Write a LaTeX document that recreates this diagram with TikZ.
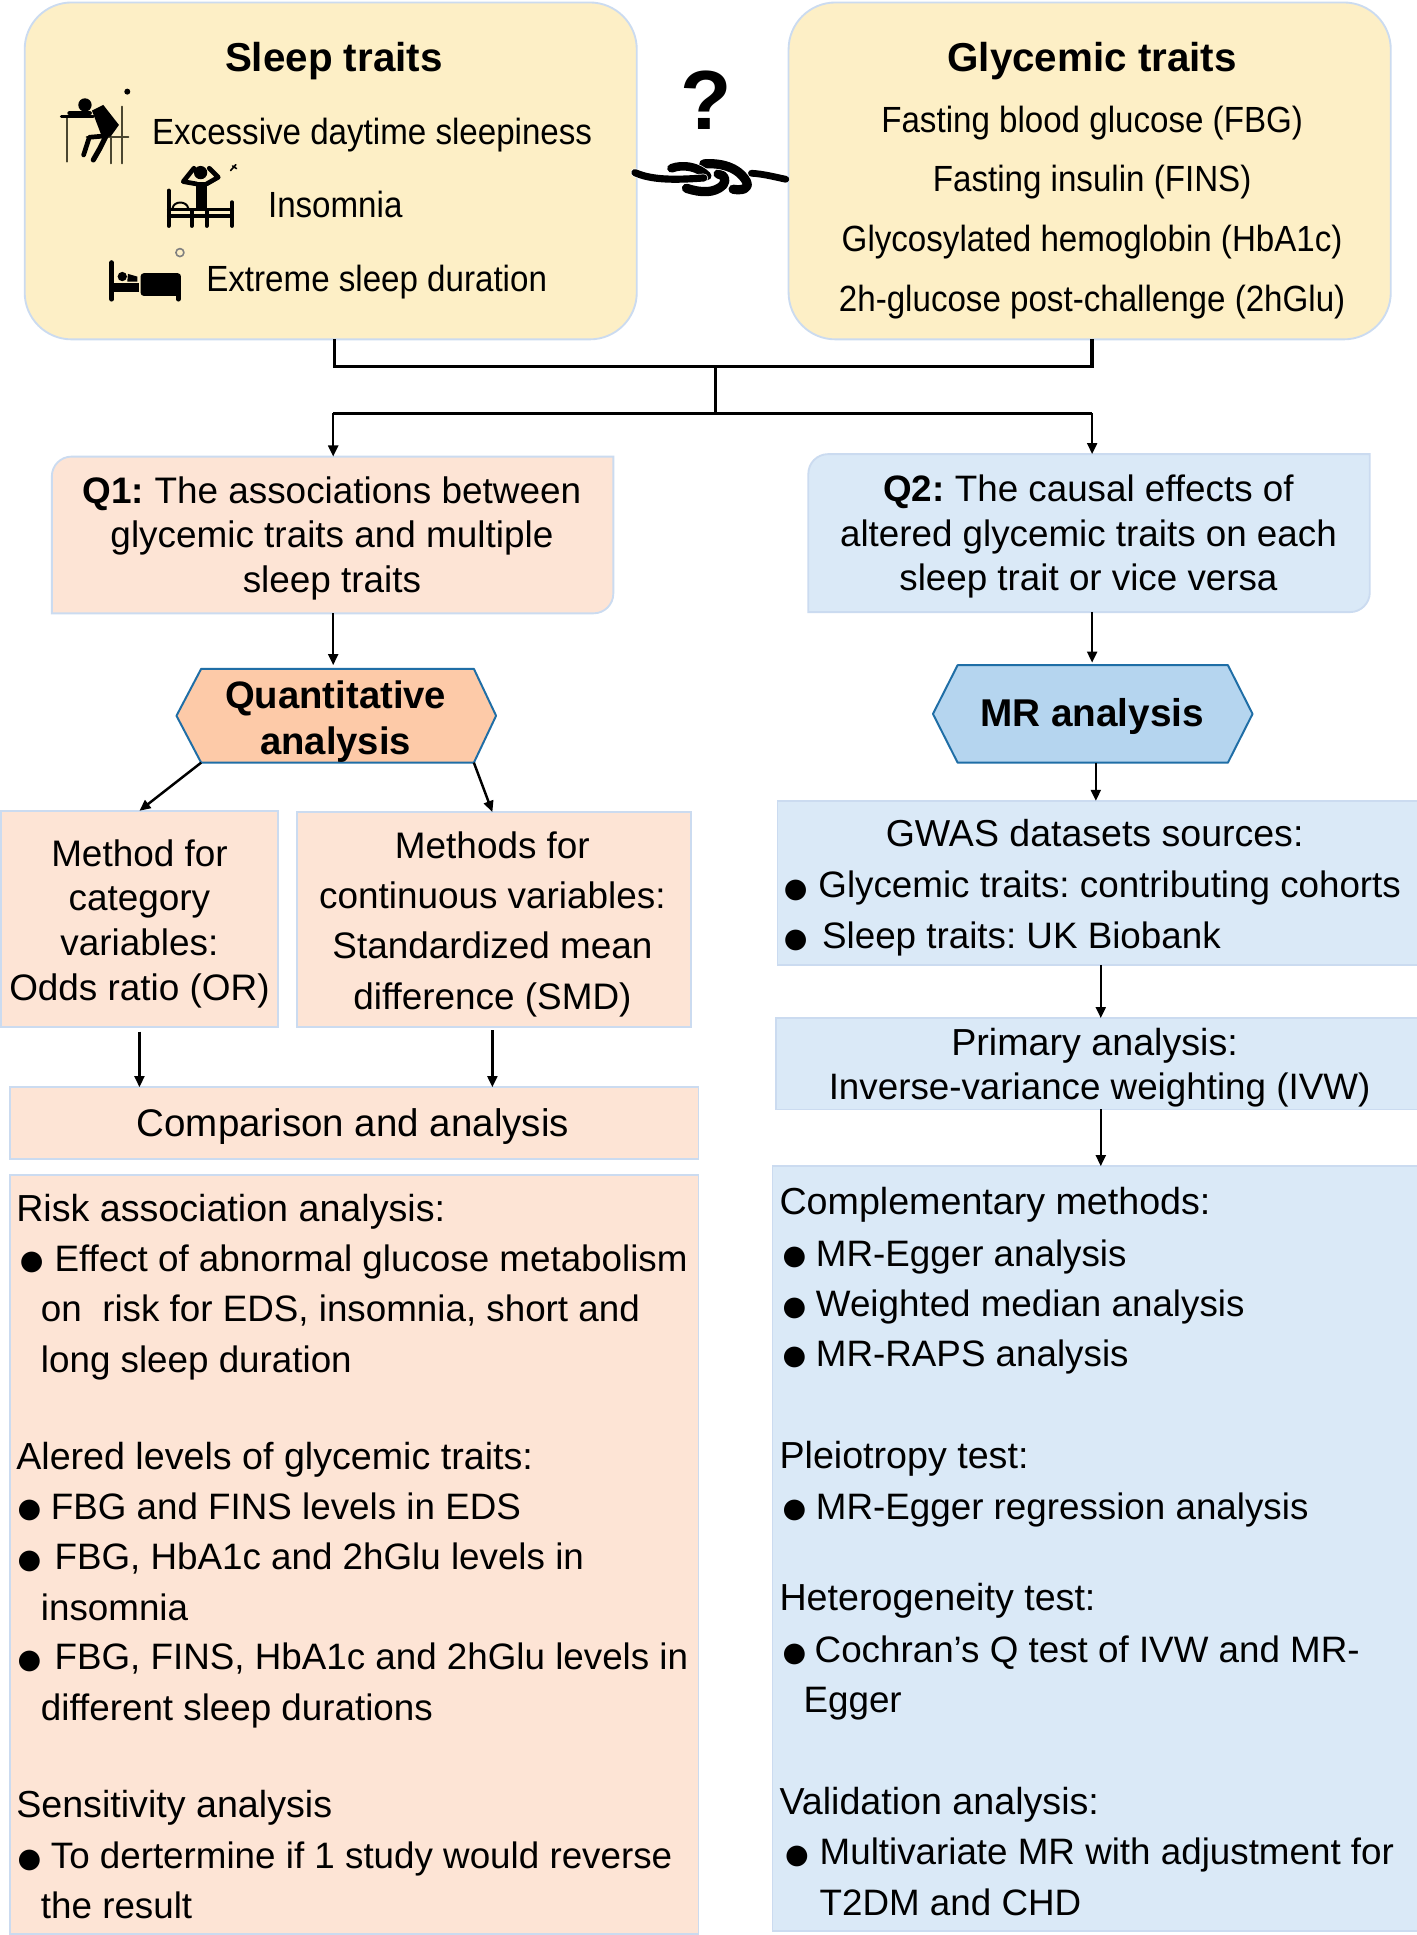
\documentclass[tikz,border=0pt]{standalone}
\usepackage{fontspec}
\setmainfont{Liberation Sans}
\newfontfamily\dejavu{DejaVu Sans}
\newfontfamily\topfont[FakeStretch=0.91]{Liberation Sans}
\usetikzlibrary{arrows.meta,calc}
\AtBeginDocument{\frenchspacing}
\definecolor{edge}{HTML}{CBDBF0}
\definecolor{cream}{HTML}{FDEFC6}
\definecolor{peach}{HTML}{FDE4D5}
\definecolor{sky}{HTML}{DAE9F7}
\definecolor{peachhex}{HTML}{FDCAA8}
\definecolor{skyhex}{HTML}{B5D5EF}
\definecolor{hexedge}{HTML}{1F6EA6}
\definecolor{olive}{HTML}{4A4630}
\newcommand{\fsz}[2]{\fontsize{#1}{#2}\selectfont}
\newcommand{\bul}[4]{\node[anchor=base west,inner sep=0,font=\dejavu\fsz{22}{22}] (#1) at (#2,#3-#4) {●};}
\newcommand{\tl}[4]{\node[txt] (#1) at (#2,#3) {#4};}
\newcommand{\hl}[4]{\node[txt,font=\fsz{30.5}{36}] (#1) at (#2,#3) {#4};}
\newcommand{\knotstrand}[2]{\draw[white,line width=#1+1.2] #2; \draw[black,line width=#1] #2;}
\tikzset{
  flat/.style={rectangle,draw=edge,line width=1.5,inner sep=0,outer sep=0,anchor=north west},
  traitbox/.style={flat,fill=cream,rounded corners=38},
  ghost/.style={rectangle,inner sep=0,outer sep=0,anchor=north west},
  diag/.style={draw=edge,line width=1.5},
  hex/.style={draw=hexedge,line width=1.6,line join=round},
  conn/.style={draw=black,line width=3},
  arr/.style={draw=black,line width=2,-{Triangle[length=9,width=8]}},
  txt/.style={anchor=base west,inner sep=0,yshift=-1pt,font=\fsz{29.8}{36}},
  top/.style={anchor=base west,inner sep=0,font=\topfont\fsz{29.5}{30}},
  topc/.style={anchor=base,inner sep=0,font=\topfont\fsz{29.5}{30}},
  head/.style={anchor=base,inner sep=0,font=\bfseries\fsz{32.7}{36}},
  para/.style={anchor=center,inner sep=0,align=center},
  icon/.style={shift={(#1)},x=0.27pt,y=-0.27pt,line cap=round,line join=round},
}
\begin{document}
\begin{tikzpicture}[x=1pt,y=-1pt]
\useasboundingbox (0,0) rectangle (1148,1568);
\fill[white] (0,0) rectangle (1148,1568);

% trait boxes
\node[traitbox,minimum width=496,minimum height=273] (sleep) at (20,2) {};
\node[traitbox,minimum width=488,minimum height=273] (gly) at (639,2) {};
\node[head] (sleeptitle) at (270.5,58) {Sleep traits};
\node[head] (glytitle) at (885,58) {Glycemic traits};
\node[top] (eds) at (123,117) {Excessive daytime sleepiness};
\node[top] (ins) at (217,176.5) {Insomnia};
\node[top] (esd) at (167,236) {Extreme sleep duration};
\node[topc] (fbg) at (885,107.5) {Fasting blood glucose (FBG)};
\node[topc] (fins) at (885,155.5) {Fasting insulin (FINS)};
\node[topc] (hba) at (885,203.5) {Glycosylated hemoglobin (HbA1c)};
\node[topc] (twoh) at (885,252.5) {2h-glucose post-challenge (2hGlu)};

% question mark and knot
\node[anchor=base,inner sep=0,font=\bfseries\fsz{68}{68}] (qm) at (572,105) {?};
\begin{scope}[icon={510.4,121.5}]
\knotstrand{7.5}{(170,115) .. controls (215,130) and (255,130) .. (280,105) .. controls (290,90) and (285,75) .. (265,72)}
\knotstrand{7.5}{(222,42) .. controls (270,38) and (325,50) .. (350,95) .. controls (360,118) and (335,122) .. (310,118)}
\knotstrand{7}{(125,55) .. controls (160,42) and (205,50) .. (232,78)}
\knotstrand{5.8}{(15,68) .. controls (60,88) and (120,92) .. (222,84)}
\draw[black,line width=5.5] (365,70) .. controls (400,72) and (430,80) .. (468,88);
\end{scope}

% sleep icons
\begin{scope}[icon={40.5,64.8}]
% EDS
\fill (232,35) circle (9);
\draw[olive,line width=1.8] (52,110) -- (52,245);
\draw[olive,line width=1.7] (215,80) -- (215,250);
\draw[olive,line width=1.6] (183,170) -- (183,250);
\draw[olive,line width=1.6] (110,170) -- (235,170);
\draw[black,line width=2.2] (34,110) -- (130,110);
\fill (105,75) circle (20);
\draw[black,line width=3.2] (58,100) -- (120,100);
\fill (126,92) -- (160,75) -- (207,135) -- (182,170) -- (155,168) -- cycle;
\draw[black,line width=3.8] (165,168) -- (118,172) -- (101,225);
\draw[black,line width=4.2] (170,165) -- (150,205) -- (130,240);
% insomnia
\fill (452,278) circle (20);
\draw[black,line width=3.8] (432,265) -- (400,305) -- (440,312);
\draw[black,line width=3.8] (478,265) -- (505,292) -- (470,312);
\fill (438,305) rectangle (472,392);
\draw[black,line width=3.2] (356,332) -- (356,438);
\draw[black,line width=3.2] (546,367) -- (546,438);
\draw[black,line width=2.8] (356,388) -- (546,388);
\draw[black,line width=2.6] (356,408) -- (546,408);
\draw[black,line width=3.2] (425,395) -- (425,438);
\draw[black,line width=3.2] (470,395) -- (470,438);
\draw[black,line width=1.6] (368,385) .. controls (372,362) and (410,362) .. (415,385);
\draw[black,line width=1.3] (542,272) -- (558,254) (548,258) -- (560,266);
% bed
\draw[black,line width=3.8] (185,548) -- (185,658);
\draw[black,line width=3.8] (385,640) -- (385,658);
\fill (217,590) circle (14);
\fill (234,582) -- (262,590) -- (262,605) -- (232,605) -- cycle;
\fill (185,610) rectangle (266,636);
\fill[rounded corners=2.5] (272,580) rectangle (393,648);
\draw[black!50,line width=1.3] (390,518) circle (12);
\end{scope}

% top connectors
\coordinate (busm) at (580,297);
\coordinate (forkm) at (580,335);
\draw[conn] ($(sleep.south)+(3,0)$) |- ($(gly.south)+(2,22)$) -- ($(gly.south)+(2,0)$);
\draw[conn,line width=2.4] (busm) -- (forkm);

% Q boxes
\node[ghost,minimum width=455,minimum height=127] (qone) at (42,370) {};
\path[diag,fill=peach] [rounded corners=16] (qone.west) -- (qone.north west) [sharp corners] -- (qone.north east) [rounded corners=16] -- (qone.south east) [sharp corners] -- (qone.south west) -- cycle;
\node[ghost,minimum width=455,minimum height=128] (qtwo) at (655,368) {};
\path[diag,fill=sky] [rounded corners=16] (qtwo.west) -- (qtwo.north west) [sharp corners] -- (qtwo.north east) [rounded corners=16] -- (qtwo.south east) [sharp corners] -- (qtwo.south west) -- cycle;
\node[para,font=\fsz{29.9}{36}] (qonet) at (269,436) {\textbf{Q1:} The associations between\\glycemic traits and multiple\\sleep traits};
\node[para,font=\fsz{29.8}{36}] (qtwot) at (882,435) {\textbf{Q2:} The causal effects of\\altered glycemic traits on each\\sleep trait or vice versa};

\draw[conn,line width=2.4] (270,335) -- (885,335);
\draw[arr] (270,335) -- (qone.north -| 270,0);
\draw[arr] (885,335) -- (qtwo.north -| 885,0);

% hexagons
\node[ghost,minimum width=259,minimum height=76] (quant) at (143,542) {};
\draw[hex,fill=peachhex] (quant.west) -- ($(quant.north west)+(20,0)$) -- ($(quant.north east)+(-18,0)$) -- (quant.east) -- ($(quant.south east)+(-18,0)$) -- ($(quant.south west)+(20,0)$) -- cycle;
\node[para,font=\bfseries\fsz{31}{37}] (quantt) at (272,585) {Quantitative\\analysis};
\node[ghost,minimum width=259,minimum height=79] (mr) at (756,539) {};
\draw[hex,fill=skyhex] (mr.west) -- ($(mr.north west)+(20,0)$) -- ($(mr.north east)+(-20,0)$) -- (mr.east) -- ($(mr.south east)+(-20,0)$) -- ($(mr.south west)+(20,0)$) -- cycle;
\node[anchor=base,inner sep=0,font=\bfseries\fsz{31.4}{36}] (mrt) at (885,589) {MR analysis};

\draw[arr,shorten >=3] (qone.south -| 270,0) -- (quant.north -| 270,0);
\draw[arr,shorten >=2] (qtwo.south -| 885,0) -- (mr.north -| 885,0);

% left column
\node[flat,fill=peach,minimum width=224,minimum height=175] (catm) at (1,657) {};
\node[flat,fill=peach,minimum width=319,minimum height=174] (conm) at (241,658) {};
\node[para,font=\fsz{29.9}{36.3}] (catt) at (113,748.5) {Method for\\category\\variables:\\Odds ratio (OR)};
\node[para,font=\fsz{29.9}{40.6}] (cont) at (399,749) {Methods for\\continuous variables:\\Standardized mean\\difference (SMD)};
\node[flat,fill=peach,minimum width=558,minimum height=58] (comp) at (8,881) {};
\node[anchor=base,inner sep=0,font=\fsz{31.2}{36}] (compt) at (286,921) {Comparison and analysis};
\node[flat,fill=peach,minimum width=558,minimum height=615] (risk) at (8,952) {};

\draw[arr] ($(quant.south west)+(20,0)$) -- (catm.north -| 113,0);
\draw[arr] ($(quant.south east)+(-18,0)$) -- (conm.north -| 399,0);
\draw[arr,shorten <=4] (catm.south -| 113,0) -- (comp.north -| 113,0);
\draw[arr,shorten <=3] (conm.south -| 399,0) -- (comp.north -| 399,0);

\hl{l1}{13}{989}{Risk association analysis:}
\bul{lb1}{16}{1029}{0}\tl{l2}{44}{1029}{Effect of abnormal glucose metabolism}
\tl{l3}{33}{1070}{on\ \ risk for EDS, insomnia, short and}
\tl{l4}{33}{1111}{long sleep duration}
\hl{l5}{13}{1190}{Alered levels of glycemic traits:}
\bul{lb2}{14}{1230}{0}\tl{l6}{41}{1230}{FBG and FINS levels in EDS}
\bul{lb3}{14}{1271}{0}\tl{l7}{44}{1271}{FBG, HbA1c and 2hGlu levels in}
\tl{l8}{33}{1312}{insomnia}
\bul{lb4}{14}{1352}{0}\tl{l9}{44}{1352}{FBG, FINS, HbA1c and 2hGlu levels in}
\tl{l10}{33}{1393}{different sleep durations}
\hl{l11}{13}{1472}{Sensitivity analysis}
\bul{lb5}{14}{1513}{0}\tl{l12}{41}{1513}{To dertermine if 1 study would reverse}
\tl{l13}{33}{1554}{the result}

% right column
\node[flat,fill=sky,minimum width=520,minimum height=133] (gwas) at (630,649) {};
\node[flat,fill=sky,minimum width=521,minimum height=74] (prim) at (629,825) {};
\node[flat,fill=sky,minimum width=524,minimum height=620] (comple) at (626,945) {};
\node[anchor=base,inner sep=0,font=\fsz{30.4}{36}] (g1) at (887,686) {GWAS datasets sources:};
\bul{gb1}{635}{727}{0}\tl{g2}{663}{726.5}{Glycemic traits: contributing cohorts}
\bul{gb2}{635}{768}{0}\tl{g3}{666}{767.5}{Sleep traits: UK Biobank}
\node[para,font=\fsz{29.8}{36}] (primt) at (891,865) {{\fsz{30.5}{36}Primary analysis:}\hspace*{8pt}\\Inverse-variance weighting (IVW)};

\draw[arr] (mr.south -| 888,0) -- (gwas.north -| 888,0);
\draw[arr] (gwas.south -| 892,0) -- (prim.north -| 892,0);
\draw[arr] (prim.south -| 892,0) -- (comple.north -| 892,0);

\hl{r1}{631.5}{983}{Complementary methods:}
\bul{rb1}{634}{1025}{0}\tl{r2}{661}{1025}{MR-Egger analysis}
\bul{rb2}{634}{1066}{0}\tl{r3}{661}{1066}{Weighted median analysis}
\bul{rb3}{634}{1106}{0}\tl{r4}{661}{1106}{MR-RAPS analysis}
\hl{r5}{631.5}{1189}{Pleiotropy test:}
\bul{rb4}{634}{1230}{0}\tl{r6}{661}{1230}{MR-Egger regression analysis}
\hl{r7}{631.5}{1304}{Heterogeneity test:}
\bul{rb5}{634}{1346}{0}\tl{r8}{660}{1346}{Cochran’s Q test of IVW and MR-}
\tl{r9}{651}{1387}{Egger}
\hl{r10}{631.5}{1469}{Validation analysis:}
\bul{rb6}{636}{1510}{0}\tl{r11}{664}{1510}{Multivariate MR with adjustment for}
\tl{r12}{664}{1551}{T2DM and CHD}
\end{tikzpicture}
\end{document}
